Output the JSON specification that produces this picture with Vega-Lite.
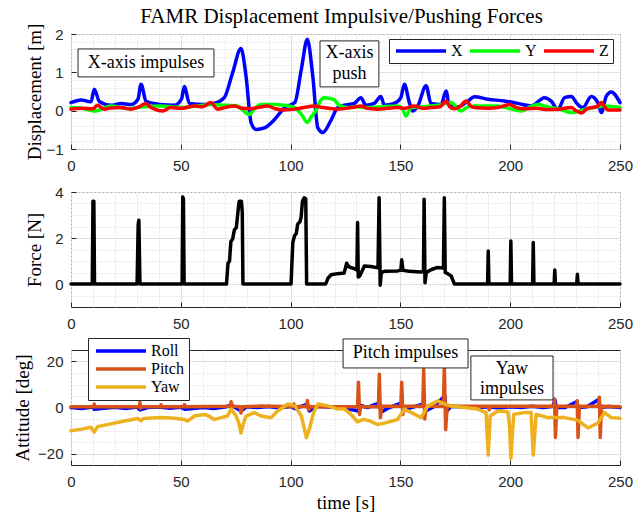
{
  "$schema": "https://vega.github.io/schema/vega-lite/v6.json",
  "autosize": {"type": "pad"},
  "padding": {"left": 13, "top": 5, "right": 0, "bottom": 0},
  "title": {"text": "FAMR Displacement Impulsive/Pushing Forces", "anchor": "middle", "frame": "group", "offset": -4, "dx": -4, "fontSize": 21, "font": "Liberation Serif", "fontWeight": "normal", "color": "black"},
  "bounds": "flush",
  "spacing": 43,
  "resolve": {"scale": {"color": "independent"}, "legend": {"color": "independent"}},
  "config": {
    "view": {"stroke": "#262626", "strokeWidth": 1},
    "axis": {"domain": false, "ticks": true, "tickSize": -5, "tickWidth": 1, "labelFont": "Liberation Sans", "labelFontSize": 15, "labelColor": "#262626", "titleFont": "Liberation Serif", "titleFontSize": 19, "titleFontWeight": "normal", "titleColor": "black", "grid": true, "gridWidth": 1, "labelPadding": 13, "titlePadding": 5, "labelFlush": false, "labelOverlap": false, "labelBound": false},
    "axisX": {"labelPadding": 14, "titlePadding": 4},
    "legend": {"labelFont": "Liberation Serif", "labelFontSize": 16, "labelColor": "black", "symbolType": "M-1,0H9", "symbolSize": 100, "labelOffset": 42, "symbolStrokeWidth": 3.5, "strokeColor": "#262626", "fillColor": "white", "cornerRadius": 0, "orient": "none"}
  },
  "datasets": {
    "disp": [
      {"t":0,"v":0.21,"s":"X"},{"t":4.6,"v":0.28,"s":"X"},{"t":9.1,"v":0.23,"s":"X"},{"t":10.6,"v":0.56,"s":"X"},{"t":12.9,"v":0.24,"s":"X"},{"t":18.2,"v":0.14,"s":"X"},{"t":22.8,"v":0.19,"s":"X"},{"t":27.3,"v":0.16,"s":"X"},{"t":30.5,"v":0.3,"s":"X"},{"t":31.9,"v":0.69,"s":"X"},{"t":34.2,"v":0.24,"s":"X"},{"t":40.8,"v":0.16,"s":"X"},{"t":47,"v":0.14,"s":"X"},{"t":50.3,"v":0.3,"s":"X"},{"t":51.6,"v":0.63,"s":"X"},{"t":53.9,"v":0.19,"s":"X"},{"t":60.7,"v":0.16,"s":"X"},{"t":65.2,"v":0.19,"s":"X"},{"t":69.8,"v":0.34,"s":"X"},{"t":73.6,"v":0.99,"s":"X"},{"t":77.4,"v":1.62,"s":"X"},{"t":79.7,"v":0.9,"s":"X"},{"t":82,"v":-0.31,"s":"X"},{"t":84.3,"v":-0.49,"s":"X"},{"t":88.1,"v":-0.45,"s":"X"},{"t":92.7,"v":-0.23,"s":"X"},{"t":97.3,"v":0.08,"s":"X"},{"t":101.9,"v":0.21,"s":"X"},{"t":104.9,"v":1.08,"s":"X"},{"t":107.6,"v":1.86,"s":"X"},{"t":110.1,"v":0.9,"s":"X"},{"t":112.4,"v":-0.45,"s":"X"},{"t":114.7,"v":-0.57,"s":"X"},{"t":118.4,"v":-0.25,"s":"X"},{"t":121.4,"v":0.08,"s":"X"},{"t":124.4,"v":0.14,"s":"X"},{"t":129,"v":0.19,"s":"X"},{"t":132,"v":0.34,"s":"X"},{"t":134.3,"v":0.14,"s":"X"},{"t":138.1,"v":0.19,"s":"X"},{"t":141.1,"v":0.37,"s":"X"},{"t":142.7,"v":0.14,"s":"X"},{"t":147.2,"v":0.19,"s":"X"},{"t":150.2,"v":0.34,"s":"X"},{"t":151.8,"v":0.69,"s":"X"},{"t":154.1,"v":0.21,"s":"X"},{"t":155.6,"v":-0.01,"s":"X"},{"t":157.9,"v":0.12,"s":"X"},{"t":161.7,"v":0.65,"s":"X"},{"t":163.9,"v":0.19,"s":"X"},{"t":168.5,"v":0.16,"s":"X"},{"t":170.8,"v":0.51,"s":"X"},{"t":172.3,"v":0.12,"s":"X"},{"t":176.1,"v":0.1,"s":"X"},{"t":180.7,"v":0.25,"s":"X"},{"t":183.7,"v":0.36,"s":"X"},{"t":189.8,"v":0.3,"s":"X"},{"t":197.4,"v":0.25,"s":"X"},{"t":203.5,"v":0.19,"s":"X"},{"t":209.6,"v":0.12,"s":"X"},{"t":215.6,"v":0.34,"s":"X"},{"t":218.7,"v":0.25,"s":"X"},{"t":221.7,"v":0.03,"s":"X"},{"t":224.8,"v":0.34,"s":"X"},{"t":227.8,"v":0.37,"s":"X"},{"t":230.8,"v":0.16,"s":"X"},{"t":233.1,"v":0.08,"s":"X"},{"t":236.9,"v":0.37,"s":"X"},{"t":239.9,"v":0.21,"s":"X"},{"t":241.5,"v":-0.05,"s":"X"},{"t":243.7,"v":0.37,"s":"X"},{"t":246,"v":0.49,"s":"X"},{"t":250,"v":0.21,"s":"X"},
      {"t":0,"v":0.08,"s":"Y"},{"t":5,"v":0.06,"s":"Y"},{"t":10.6,"v":-0.01,"s":"Y"},{"t":18.2,"v":0.12,"s":"Y"},{"t":25.8,"v":0.05,"s":"Y"},{"t":33,"v":0.1,"s":"Y"},{"t":40.8,"v":0.12,"s":"Y"},{"t":50,"v":0.08,"s":"Y"},{"t":57,"v":0.12,"s":"Y"},{"t":63.7,"v":0.16,"s":"Y"},{"t":70,"v":0.14,"s":"Y"},{"t":75.9,"v":0.12,"s":"Y"},{"t":78.5,"v":0.0,"s":"Y"},{"t":81.2,"v":-0.1,"s":"Y"},{"t":83.5,"v":0.05,"s":"Y"},{"t":86.5,"v":0.16,"s":"Y"},{"t":92.7,"v":0.16,"s":"Y"},{"t":97,"v":0.14,"s":"Y"},{"t":101.9,"v":0.08,"s":"Y"},{"t":105,"v":-0.1,"s":"Y"},{"t":107.6,"v":-0.31,"s":"Y"},{"t":109.5,"v":-0.15,"s":"Y"},{"t":111.4,"v":-0.01,"s":"Y"},{"t":113.5,"v":0.25,"s":"Y"},{"t":115.2,"v":0.34,"s":"Y"},{"t":119.7,"v":0.29,"s":"Y"},{"t":122,"v":0.15,"s":"Y"},{"t":125.8,"v":0.08,"s":"Y"},{"t":130,"v":0.1,"s":"Y"},{"t":135.1,"v":0.08,"s":"Y"},{"t":141,"v":0.1,"s":"Y"},{"t":148.7,"v":0.12,"s":"Y"},{"t":151,"v":0.05,"s":"Y"},{"t":152.5,"v":-0.14,"s":"Y"},{"t":154.9,"v":0.08,"s":"Y"},{"t":160,"v":0.1,"s":"Y"},{"t":164,"v":0.12,"s":"Y"},{"t":168,"v":0.15,"s":"Y"},{"t":173.1,"v":0.21,"s":"Y"},{"t":175.5,"v":0.1,"s":"Y"},{"t":177.6,"v":-0.01,"s":"Y"},{"t":180,"v":0.08,"s":"Y"},{"t":183.7,"v":0.12,"s":"Y"},{"t":194.4,"v":0.12,"s":"Y"},{"t":200,"v":0.05,"s":"Y"},{"t":205,"v":-0.01,"s":"Y"},{"t":209,"v":0.1,"s":"Y"},{"t":212.6,"v":0.16,"s":"Y"},{"t":217,"v":0.1,"s":"Y"},{"t":221.7,"v":0.05,"s":"Y"},{"t":227.8,"v":-0.05,"s":"Y"},{"t":233.9,"v":0.03,"s":"Y"},{"t":238,"v":0.08,"s":"Y"},{"t":243,"v":0.12,"s":"Y"},{"t":250,"v":0.08,"s":"Y"},
      {"t":0,"v":0.04,"s":"Z"},{"t":5,"v":0.06,"s":"Z"},{"t":10,"v":0.05,"s":"Z"},{"t":12.1,"v":0.14,"s":"Z"},{"t":15.2,"v":0.04,"s":"Z"},{"t":18,"v":0.07,"s":"Z"},{"t":22.8,"v":0.08,"s":"Z"},{"t":27.3,"v":0.04,"s":"Z"},{"t":31,"v":0.1,"s":"Z"},{"t":34.2,"v":0.19,"s":"Z"},{"t":36,"v":0.1,"s":"Z"},{"t":38,"v":0.04,"s":"Z"},{"t":41.8,"v":-0.01,"s":"Z"},{"t":45.5,"v":0.08,"s":"Z"},{"t":50,"v":0.06,"s":"Z"},{"t":56.2,"v":0.12,"s":"Z"},{"t":60,"v":0.1,"s":"Z"},{"t":63.7,"v":0.21,"s":"Z"},{"t":66.7,"v":0.04,"s":"Z"},{"t":70,"v":0.08,"s":"Z"},{"t":74.3,"v":0.12,"s":"Z"},{"t":78,"v":0.06,"s":"Z"},{"t":81.9,"v":0.05,"s":"Z"},{"t":85,"v":0.08,"s":"Z"},{"t":89.5,"v":0.12,"s":"Z"},{"t":93,"v":0.05,"s":"Z"},{"t":97,"v":0.02,"s":"Z"},{"t":101.9,"v":0.04,"s":"Z"},{"t":106,"v":0.08,"s":"Z"},{"t":110.7,"v":0.12,"s":"Z"},{"t":115,"v":0.08,"s":"Z"},{"t":121.4,"v":0.04,"s":"Z"},{"t":127.5,"v":0.08,"s":"Z"},{"t":132.2,"v":0.12,"s":"Z"},{"t":135,"v":0.06,"s":"Z"},{"t":139.6,"v":0.04,"s":"Z"},{"t":144,"v":0.06,"s":"Z"},{"t":148.7,"v":0.08,"s":"Z"},{"t":152,"v":0.06,"s":"Z"},{"t":156.3,"v":0.12,"s":"Z"},{"t":160,"v":0.06,"s":"Z"},{"t":163.9,"v":0.08,"s":"Z"},{"t":168,"v":0.1,"s":"Z"},{"t":170.8,"v":0.25,"s":"Z"},{"t":172.5,"v":0.1,"s":"Z"},{"t":174.6,"v":0.05,"s":"Z"},{"t":177,"v":0.1,"s":"Z"},{"t":179.9,"v":0.25,"s":"Z"},{"t":182,"v":0.12,"s":"Z"},{"t":183.7,"v":0.08,"s":"Z"},{"t":190,"v":0.06,"s":"Z"},{"t":194.4,"v":0.08,"s":"Z"},{"t":199.7,"v":0.16,"s":"Z"},{"t":203,"v":0.08,"s":"Z"},{"t":206.5,"v":0.05,"s":"Z"},{"t":212,"v":0.06,"s":"Z"},{"t":217,"v":0.03,"s":"Z"},{"t":221.7,"v":0.04,"s":"Z"},{"t":227.8,"v":0.08,"s":"Z"},{"t":230,"v":0.0,"s":"Z"},{"t":232.4,"v":-0.06,"s":"Z"},{"t":235,"v":0.05,"s":"Z"},{"t":239.9,"v":0.12,"s":"Z"},{"t":241.5,"v":0.21,"s":"Z"},{"t":243,"v":0.1,"s":"Z"},{"t":244.5,"v":0.02,"s":"Z"},{"t":250,"v":0.02,"s":"Z"}
    ],
    "box1": [
      {"t":3.2,"t2":65.1,"v":1.61,"v2":0.88},
      {"t":113.4,"t2":140.2,"v":1.82,"v2":0.62}
    ],
    "txt1": [
      {"t":34.2,"v":1.245,"label":"X-axis impulses"},
      {"t":126.8,"v":1.504,"label":"X-axis\npush"}
    ],
    "force": [
      {"t":0,"v":0},{"t":9.7,"v":0},{"t":10.0,"v":3.6},{"t":10.4,"v":3.6},{"t":10.7,"v":0},
      {"t":30.1,"v":0},{"t":30.6,"v":2.6},{"t":30.9,"v":2.77},{"t":31.4,"v":0},
      {"t":50.6,"v":0},{"t":50.9,"v":3.78},{"t":51.2,"v":3.7},{"t":51.5,"v":0},
      {"t":70.8,"v":0},{"t":71.5,"v":0.9},{"t":72.2,"v":1.0},{"t":72.8,"v":1.85},{"t":73.6,"v":1.95},{"t":74.4,"v":2.35},{"t":75.3,"v":2.45},{"t":76.2,"v":3.3},{"t":76.6,"v":3.6},{"t":77.6,"v":3.6},{"t":78.0,"v":3.1},{"t":78.3,"v":0},
      {"t":100.2,"v":0},{"t":101.0,"v":1.8},{"t":101.8,"v":2.1},{"t":102.6,"v":2.2},{"t":103.2,"v":2.6},{"t":104.2,"v":2.7},{"t":104.8,"v":2.9},{"t":105.4,"v":3.6},{"t":106.2,"v":3.75},{"t":106.9,"v":3.7},{"t":107.3,"v":0},
      {"t":116.0,"v":0},{"t":117.0,"v":0.25},{"t":118.4,"v":0.4},{"t":121.4,"v":0.45},{"t":124.4,"v":0.48},{"t":125.5,"v":0.9},{"t":126.5,"v":0.75},{"t":129.5,"v":0.65},{"t":130.2,"v":0.6},{"t":130.5,"v":2.67},{"t":130.8,"v":0.3},{"t":131.5,"v":0.35},{"t":133.6,"v":0.78},{"t":136.6,"v":0.76},{"t":139.8,"v":0.7},{"t":140.3,"v":3.75},{"t":140.8,"v":-0.05},{"t":141.3,"v":0.5},{"t":142.7,"v":0.55},{"t":148.7,"v":0.57},{"t":150.2,"v":0.6},{"t":150.6,"v":1.05},{"t":151.2,"v":0.6},{"t":154,"v":0.55},{"t":159.4,"v":0.52},{"t":160.5,"v":0.55},{"t":160.8,"v":3.68},{"t":161.2,"v":0.05},{"t":161.8,"v":0.5},{"t":163.9,"v":0.62},{"t":166.9,"v":0.72},{"t":169.6,"v":0.7},{"t":170.0,"v":3.75},{"t":170.4,"v":0.5},{"t":171.5,"v":0.45},{"t":173.1,"v":0.35},{"t":174.6,"v":0},
      {"t":189.7,"v":0},{"t":190.0,"v":1.43},{"t":190.3,"v":0},{"t":200.0,"v":0},{"t":200.3,"v":1.87},{"t":200.6,"v":0},{"t":210.2,"v":0},{"t":210.5,"v":1.8},{"t":210.8,"v":0},{"t":220.0,"v":0},{"t":220.3,"v":0.61},{"t":220.6,"v":0},{"t":230.3,"v":0},{"t":230.6,"v":0.42},{"t":230.9,"v":0},{"t":250,"v":0}
    ],
    "att": [
      {"t":0,"v":0,"s":"Roll"},{"t":5,"v":-0.4,"s":"Roll"},{"t":10,"v":0.2,"s":"Roll"},{"t":10.6,"v":-0.8,"s":"Roll"},{"t":15,"v":-0.3,"s":"Roll"},{"t":20,"v":0.1,"s":"Roll"},{"t":25,"v":-0.4,"s":"Roll"},{"t":30,"v":0.2,"s":"Roll"},{"t":31.5,"v":-1,"s":"Roll"},{"t":35,"v":0,"s":"Roll"},{"t":40,"v":0.2,"s":"Roll"},{"t":45,"v":-0.3,"s":"Roll"},{"t":50,"v":0.1,"s":"Roll"},{"t":52,"v":-0.8,"s":"Roll"},{"t":60,"v":0,"s":"Roll"},{"t":65,"v":-0.4,"s":"Roll"},{"t":70,"v":0.2,"s":"Roll"},{"t":73,"v":1,"s":"Roll"},{"t":77.5,"v":-1.5,"s":"Roll"},{"t":80,"v":0.3,"s":"Roll"},{"t":85,"v":0,"s":"Roll"},{"t":90,"v":0.4,"s":"Roll"},{"t":95,"v":-0.2,"s":"Roll"},{"t":100,"v":0.5,"s":"Roll"},{"t":102,"v":-0.5,"s":"Roll"},{"t":107.6,"v":1.5,"s":"Roll"},{"t":108.5,"v":-1.5,"s":"Roll"},{"t":112,"v":0.5,"s":"Roll"},{"t":118,"v":0.2,"s":"Roll"},{"t":125,"v":-0.3,"s":"Roll"},{"t":130.8,"v":-1.5,"s":"Roll"},{"t":131.5,"v":1,"s":"Roll"},{"t":135,"v":0,"s":"Roll"},{"t":140.4,"v":2,"s":"Roll"},{"t":141.2,"v":-2,"s":"Roll"},{"t":145,"v":0,"s":"Roll"},{"t":150.6,"v":2,"s":"Roll"},{"t":151.4,"v":-1.5,"s":"Roll"},{"t":155,"v":0,"s":"Roll"},{"t":160.6,"v":1.5,"s":"Roll"},{"t":161.5,"v":-1.5,"s":"Roll"},{"t":165,"v":0.2,"s":"Roll"},{"t":170.2,"v":5,"s":"Roll"},{"t":170.8,"v":-2,"s":"Roll"},{"t":173,"v":0.5,"s":"Roll"},{"t":180,"v":0.2,"s":"Roll"},{"t":185,"v":0,"s":"Roll"},{"t":190,"v":0.3,"s":"Roll"},{"t":195,"v":-0.2,"s":"Roll"},{"t":200,"v":0.3,"s":"Roll"},{"t":205,"v":0,"s":"Roll"},{"t":210,"v":0.5,"s":"Roll"},{"t":215,"v":0,"s":"Roll"},{"t":219.5,"v":0.5,"s":"Roll"},{"t":220.3,"v":3.5,"s":"Roll"},{"t":221,"v":0,"s":"Roll"},{"t":225,"v":0,"s":"Roll"},{"t":230.2,"v":2.5,"s":"Roll"},{"t":231,"v":0,"s":"Roll"},{"t":235,"v":0.3,"s":"Roll"},{"t":240.3,"v":3.5,"s":"Roll"},{"t":241,"v":0,"s":"Roll"},{"t":245,"v":0.4,"s":"Roll"},{"t":250,"v":0,"s":"Roll"},
      {"t":0,"v":0.3,"s":"Pitch"},{"t":10.4,"v":0.3,"s":"Pitch"},{"t":10.6,"v":1.5,"s":"Pitch"},{"t":10.9,"v":0.3,"s":"Pitch"},{"t":31.2,"v":0.3,"s":"Pitch"},{"t":31.4,"v":2.2,"s":"Pitch"},{"t":31.7,"v":-0.3,"s":"Pitch"},{"t":32.2,"v":0.3,"s":"Pitch"},{"t":40.8,"v":0.3,"s":"Pitch"},{"t":41,"v":1.2,"s":"Pitch"},{"t":41.3,"v":0.3,"s":"Pitch"},{"t":51.5,"v":0.3,"s":"Pitch"},{"t":51.7,"v":1.3,"s":"Pitch"},{"t":52,"v":0.3,"s":"Pitch"},{"t":72.5,"v":0.5,"s":"Pitch"},{"t":72.9,"v":2.5,"s":"Pitch"},{"t":73.5,"v":0.5,"s":"Pitch"},{"t":77,"v":0.3,"s":"Pitch"},{"t":77.4,"v":-2.4,"s":"Pitch"},{"t":78,"v":0.3,"s":"Pitch"},{"t":86.5,"v":0.6,"s":"Pitch"},{"t":101.2,"v":0.3,"s":"Pitch"},{"t":101.5,"v":1.5,"s":"Pitch"},{"t":102,"v":0.3,"s":"Pitch"},{"t":107.3,"v":0.5,"s":"Pitch"},{"t":107.6,"v":3,"s":"Pitch"},{"t":108.2,"v":-1,"s":"Pitch"},{"t":109,"v":0.3,"s":"Pitch"},{"t":118,"v":0.3,"s":"Pitch"},{"t":130.5,"v":0.3,"s":"Pitch"},{"t":130.9,"v":11,"s":"Pitch"},{"t":131.4,"v":-3,"s":"Pitch"},{"t":131.9,"v":0.3,"s":"Pitch"},{"t":140,"v":0.3,"s":"Pitch"},{"t":140.4,"v":14.5,"s":"Pitch"},{"t":140.9,"v":-4.4,"s":"Pitch"},{"t":141.5,"v":0.5,"s":"Pitch"},{"t":150.2,"v":0.5,"s":"Pitch"},{"t":150.6,"v":11,"s":"Pitch"},{"t":151.1,"v":-3,"s":"Pitch"},{"t":151.6,"v":0.5,"s":"Pitch"},{"t":160.2,"v":0.5,"s":"Pitch"},{"t":160.6,"v":16.5,"s":"Pitch"},{"t":161.1,"v":-5,"s":"Pitch"},{"t":161.7,"v":0.5,"s":"Pitch"},{"t":169.6,"v":0.5,"s":"Pitch"},{"t":170.0,"v":18.5,"s":"Pitch"},{"t":170.6,"v":-9.6,"s":"Pitch"},{"t":171.3,"v":0.5,"s":"Pitch"},{"t":180,"v":0.5,"s":"Pitch"},{"t":190,"v":0.5,"s":"Pitch"},{"t":190.4,"v":-1,"s":"Pitch"},{"t":191,"v":0.5,"s":"Pitch"},{"t":200,"v":0.5,"s":"Pitch"},{"t":210,"v":0.5,"s":"Pitch"},{"t":219.9,"v":0.5,"s":"Pitch"},{"t":220.2,"v":3.7,"s":"Pitch"},{"t":220.6,"v":-13,"s":"Pitch"},{"t":221.2,"v":0.5,"s":"Pitch"},{"t":230.2,"v":0.5,"s":"Pitch"},{"t":230.5,"v":2.9,"s":"Pitch"},{"t":230.9,"v":-13,"s":"Pitch"},{"t":231.5,"v":0.5,"s":"Pitch"},{"t":240.2,"v":0.5,"s":"Pitch"},{"t":240.6,"v":4.5,"s":"Pitch"},{"t":241,"v":-13,"s":"Pitch"},{"t":241.6,"v":0.5,"s":"Pitch"},{"t":250,"v":0.3,"s":"Pitch"},
      {"t":0,"v":-10.1,"s":"Yaw"},{"t":5,"v":-9.4,"s":"Yaw"},{"t":9.1,"v":-8.6,"s":"Yaw"},{"t":10.6,"v":-10.7,"s":"Yaw"},{"t":12.1,"v":-8.3,"s":"Yaw"},{"t":19.7,"v":-6.8,"s":"Yaw"},{"t":25,"v":-5.8,"s":"Yaw"},{"t":30.4,"v":-4.8,"s":"Yaw"},{"t":31.9,"v":-5.8,"s":"Yaw"},{"t":33,"v":-4.8,"s":"Yaw"},{"t":40.8,"v":-4.4,"s":"Yaw"},{"t":46,"v":-4.6,"s":"Yaw"},{"t":51.6,"v":-5.2,"s":"Yaw"},{"t":53.1,"v":-5.9,"s":"Yaw"},{"t":56.2,"v":-3.7,"s":"Yaw"},{"t":60.7,"v":-3.0,"s":"Yaw"},{"t":63,"v":-3.8,"s":"Yaw"},{"t":65.2,"v":-5.2,"s":"Yaw"},{"t":68,"v":-4.5,"s":"Yaw"},{"t":71.3,"v":-3.7,"s":"Yaw"},{"t":72.9,"v":-0.7,"s":"Yaw"},{"t":75.2,"v":-3.7,"s":"Yaw"},{"t":76.5,"v":-7,"s":"Yaw"},{"t":77.4,"v":-11.1,"s":"Yaw"},{"t":78.5,"v":-7,"s":"Yaw"},{"t":79.7,"v":-3.7,"s":"Yaw"},{"t":83.5,"v":-2.2,"s":"Yaw"},{"t":86.5,"v":-3.7,"s":"Yaw"},{"t":91.1,"v":-4.4,"s":"Yaw"},{"t":94.1,"v":-1.5,"s":"Yaw"},{"t":98.7,"v":1.5,"s":"Yaw"},{"t":101.9,"v":0.7,"s":"Yaw"},{"t":104.9,"v":-3.7,"s":"Yaw"},{"t":106.2,"v":-9,"s":"Yaw"},{"t":107.2,"v":-13.1,"s":"Yaw"},{"t":108.7,"v":-8.9,"s":"Yaw"},{"t":110.5,"v":-2,"s":"Yaw"},{"t":112.5,"v":1.5,"s":"Yaw"},{"t":117,"v":0.7,"s":"Yaw"},{"t":121.6,"v":-0.7,"s":"Yaw"},{"t":124.6,"v":-0.7,"s":"Yaw"},{"t":127,"v":-2.5,"s":"Yaw"},{"t":130.4,"v":-6.2,"s":"Yaw"},{"t":133.3,"v":-5.2,"s":"Yaw"},{"t":136,"v":-5.8,"s":"Yaw"},{"t":139.6,"v":-7.4,"s":"Yaw"},{"t":142.7,"v":-6.8,"s":"Yaw"},{"t":148.7,"v":-5.2,"s":"Yaw"},{"t":151.8,"v":-0.7,"s":"Yaw"},{"t":154.9,"v":-2.2,"s":"Yaw"},{"t":159.4,"v":-4.4,"s":"Yaw"},{"t":162.5,"v":0.7,"s":"Yaw"},{"t":167.1,"v":2.9,"s":"Yaw"},{"t":170.1,"v":1.5,"s":"Yaw"},{"t":173.1,"v":0.7,"s":"Yaw"},{"t":179.2,"v":0,"s":"Yaw"},{"t":185.2,"v":-0.7,"s":"Yaw"},{"t":189.0,"v":-2.2,"s":"Yaw"},{"t":190.0,"v":-20.7,"s":"Yaw"},{"t":190.9,"v":-3.7,"s":"Yaw"},{"t":194.4,"v":-1.5,"s":"Yaw"},{"t":198.9,"v":-1.8,"s":"Yaw"},{"t":199.7,"v":-8,"s":"Yaw"},{"t":200.3,"v":-22.2,"s":"Yaw"},{"t":201.6,"v":-3.0,"s":"Yaw"},{"t":206.5,"v":-2.2,"s":"Yaw"},{"t":209.5,"v":-2.2,"s":"Yaw"},{"t":210.5,"v":-20.7,"s":"Yaw"},{"t":211.8,"v":-3.0,"s":"Yaw"},{"t":217.2,"v":-4.4,"s":"Yaw"},{"t":224.8,"v":-4.4,"s":"Yaw"},{"t":230.8,"v":-5.6,"s":"Yaw"},{"t":235.4,"v":-8.9,"s":"Yaw"},{"t":239.9,"v":-6.8,"s":"Yaw"},{"t":243,"v":-2.2,"s":"Yaw"},{"t":246,"v":-4.4,"s":"Yaw"},{"t":250,"v":-4.7,"s":"Yaw"}
    ],
    "box3": [
      {"t":123.9,"t2":180.8,"v":29.8,"v2":17.2},
      {"t":182.1,"t2":219.5,"v":22.4,"v2":3.3}
    ],
    "txt3": [
      {"t":152.3,"v":23.6,"label":"Pitch impulses"},
      {"t":200.8,"v":16.74,"label":"Yaw\nimpulses"}
    ]
  },
  "vconcat": [
    {
      "width": 549, "height": 115,
      "encoding": {
        "x": {"field": "t", "type": "quantitative", "scale": {"domain": [0, 250], "nice": false, "zero": false},
          "axis": {"title": null, "labelOverlap": false, "values": [0,10,20,30,40,50,60,70,80,90,100,110,120,130,140,150,160,170,180,190,200,210,220,230,240,250], "labelExpr": "datum.value % 50 === 0 ? datum.label : ''", "tickColor": {"condition": {"test": "datum.value % 50 === 0", "value": "#262626"}, "value": "transparent"}, "gridDash": {"condition": {"test": "datum.value % 50 === 0", "value": [4, 0]}, "value": [1, 2]}, "gridColor": {"condition": {"test": "datum.value % 50 === 0", "value": "#dddddd"}, "value": "#d4d4d4"}}},
        "y": {"field": "v", "type": "quantitative", "scale": {"domain": [-1, 2], "nice": false, "zero": false},
          "axis": {"title": "Displacement [m]", "titlePadding": 1, "labelOverlap": false, "format": "~g", "values": [-1,-0.8,-0.6,-0.4,-0.2,0,0.2,0.4,0.6,0.8,1,1.2,1.4,1.6,1.8,2], "labelExpr": "datum.value % 1 === 0 ? datum.label : ''", "tickColor": {"condition": {"test": "datum.value % 1 === 0", "value": "#262626"}, "value": "transparent"}, "gridDash": {"condition": {"test": "datum.value % 1 === 0", "value": [4, 0]}, "value": [1, 2]}, "gridColor": {"condition": {"test": "datum.value % 1 === 0", "value": "#dddddd"}, "value": "#d4d4d4"}}}
      },
      "layer": [
        {
          "data": {"name": "disp"},
          "mark": {"type": "line", "strokeWidth": 3.5, "interpolate": "monotone", "strokeJoin": "round", "strokeCap": "round"},
          "encoding": {
            "color": {"field": "s", "type": "nominal", "scale": {"domain": ["X", "Y", "Z"], "range": ["#0000ff", "#00ff00", "#ff0000"]},
              "legend": {"title": null, "direction": "horizontal", "legendX": 318, "legendY": 5, "padding": 4, "columnPadding": 0}}
          }
        },
        {
          "data": {"name": "box1"},
          "mark": {"type": "rect", "fill": "white", "stroke": "#262626", "strokeWidth": 1},
          "encoding": {"x2": {"field": "t2"}, "y2": {"field": "v2"}}
        },
        {
          "data": {"name": "txt1"},
          "mark": {"type": "text", "font": "Liberation Serif", "fontSize": 18, "align": "center", "baseline": "middle", "lineBreak": "\n", "lineHeight": 21, "color": "black"},
          "encoding": {"text": {"field": "label"}}
        }
      ]
    },
    {
      "width": 549, "height": 115,
      "data": {"name": "force"},
      "mark": {"type": "line", "strokeWidth": 3.5, "color": "black", "strokeJoin": "round", "strokeCap": "round"},
      "encoding": {
        "x": {"field": "t", "type": "quantitative", "scale": {"domain": [0, 250], "nice": false, "zero": false},
          "axis": {"title": null, "labelOverlap": false, "values": [0,10,20,30,40,50,60,70,80,90,100,110,120,130,140,150,160,170,180,190,200,210,220,230,240,250], "labelExpr": "datum.value % 50 === 0 ? datum.label : ''", "tickColor": {"condition": {"test": "datum.value % 50 === 0", "value": "#262626"}, "value": "transparent"}, "gridDash": {"condition": {"test": "datum.value % 50 === 0", "value": [4, 0]}, "value": [1, 2]}, "gridColor": {"condition": {"test": "datum.value % 50 === 0", "value": "#dddddd"}, "value": "#d4d4d4"}}},
        "y": {"field": "v", "type": "quantitative", "scale": {"domain": [-1, 4], "nice": false, "zero": false},
          "axis": {"title": "Force [N]", "titlePadding": 10, "labelOverlap": false, "format": "~g", "values": [-0.5,0,0.5,1,1.5,2,2.5,3,3.5,4], "labelExpr": "datum.value % 2 === 0 ? datum.label : ''", "tickColor": {"condition": {"test": "datum.value % 2 === 0", "value": "#262626"}, "value": "transparent"}, "gridDash": {"condition": {"test": "datum.value % 2 === 0", "value": [4, 0]}, "value": [1, 2]}, "gridColor": {"condition": {"test": "datum.value % 2 === 0", "value": "#dddddd"}, "value": "#d4d4d4"}}}
      }
    },
    {
      "width": 549, "height": 115,
      "encoding": {
        "x": {"field": "t", "type": "quantitative", "scale": {"domain": [0, 250], "nice": false, "zero": false},
          "axis": {"title": "time [s]", "labelOverlap": false, "values": [0,10,20,30,40,50,60,70,80,90,100,110,120,130,140,150,160,170,180,190,200,210,220,230,240,250], "labelExpr": "datum.value % 50 === 0 ? datum.label : ''", "tickColor": {"condition": {"test": "datum.value % 50 === 0", "value": "#262626"}, "value": "transparent"}, "gridDash": {"condition": {"test": "datum.value % 50 === 0", "value": [4, 0]}, "value": [1, 2]}, "gridColor": {"condition": {"test": "datum.value % 50 === 0", "value": "#dddddd"}, "value": "#d4d4d4"}}},
        "y": {"field": "v", "type": "quantitative", "scale": {"domain": [-25, 25], "nice": false, "zero": false},
          "axis": {"title": "Attitude [deg]", "titlePadding": 5, "labelOverlap": false, "format": "~g", "values": [-20,-15,-10,-5,0,5,10,15,20], "labelExpr": "datum.value % 20 === 0 ? datum.label : ''", "tickColor": {"condition": {"test": "datum.value % 20 === 0", "value": "#262626"}, "value": "transparent"}, "gridDash": {"condition": {"test": "datum.value % 20 === 0", "value": [4, 0]}, "value": [1, 2]}, "gridColor": {"condition": {"test": "datum.value % 20 === 0", "value": "#dddddd"}, "value": "#d4d4d4"}}}
      },
      "layer": [
        {
          "data": {"name": "att"},
          "transform": [{"filter": {"field": "s", "equal": "Roll"}}],
          "mark": {"type": "line", "strokeWidth": 3.5, "strokeJoin": "round", "strokeCap": "round"},
          "encoding": {
            "color": {"field": "s", "type": "nominal", "scale": {"domain": ["Roll", "Pitch", "Yaw"], "range": ["#0000ff", "#d95319", "#edb120"]},
              "legend": {"title": null, "direction": "vertical", "legendX": 17, "legendY": -12, "padding": 5, "rowPadding": 2}}
          }
        },
        {
          "data": {"name": "att"},
          "transform": [{"filter": {"field": "s", "equal": "Pitch"}}],
          "mark": {"type": "line", "strokeWidth": 3.5, "strokeJoin": "round", "strokeCap": "round"},
          "encoding": {"color": {"field": "s", "type": "nominal"}}
        },
        {
          "data": {"name": "att"},
          "transform": [{"filter": {"field": "s", "equal": "Yaw"}}],
          "mark": {"type": "line", "strokeWidth": 3.5, "strokeJoin": "round", "strokeCap": "round"},
          "encoding": {"color": {"field": "s", "type": "nominal"}}
        },
        {
          "data": {"name": "box3"},
          "mark": {"type": "rect", "fill": "white", "stroke": "#262626", "strokeWidth": 1},
          "encoding": {"x2": {"field": "t2"}, "y2": {"field": "v2"}}
        },
        {
          "data": {"name": "txt3"},
          "mark": {"type": "text", "font": "Liberation Serif", "fontSize": 18, "align": "center", "baseline": "middle", "lineBreak": "\n", "lineHeight": 20, "color": "black"},
          "encoding": {"text": {"field": "label"}}
        }
      ]
    }
  ]
}
